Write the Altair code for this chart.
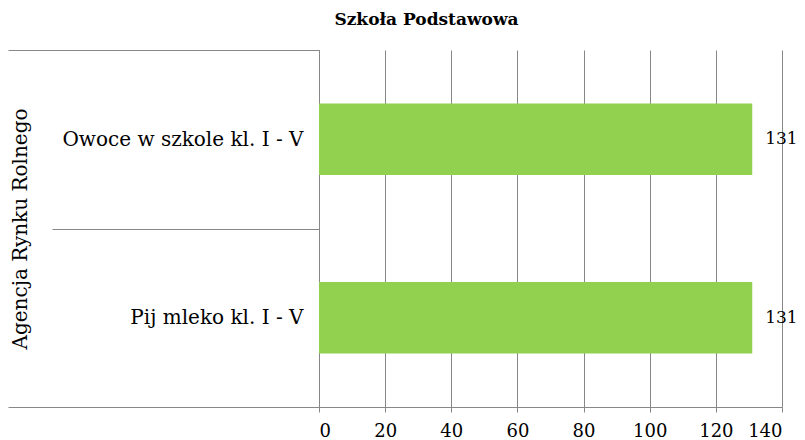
import altair as alt
import pandas as pd

categories = ["Owoce w szkole kl. I - V", "Pij mleko kl. I - V"]
values = [131, 131]
groups = ["Agencja Rynku Rolnego", "Agencja Rynku Rolnego"]
x_ticks = [0, 20, 40, 60, 80, 100, 120, 140]
chart_title = "Szkoła Podstawowa"

df = pd.DataFrame({"kategoria": categories, "wartosc": values, "grupa": groups})

FONT = "DejaVu Serif"
GRAY = "#878787"
GREEN = "#92D050"

cat_scale = alt.Scale(paddingInner=0, paddingOuter=0)

x_enc = alt.X(
    "wartosc:Q",
    scale=alt.Scale(domain=[0, 140], nice=False),
    axis=alt.Axis(
        values=x_ticks, title=None, grid=True, gridColor=GRAY, gridOpacity=1,
        domainColor=GRAY, tickColor=GRAY, tickSize=5, labelFont=FONT,
        labelFontSize=18, labelColor="black", labelPadding=10,
    ),
)

y_enc = alt.Y(
    "kategoria:N",
    sort=categories,
    scale=cat_scale,
    axis=alt.Axis(
        orient="left", title=None, tickBand="extent", tickSize=267, tickColor=GRAY,
        domainColor=GRAY, labelFont=FONT, labelFontSize=20, labelColor="black",
        labelPadding=-251, labelLimit=0,
    ),
)

bars = alt.Chart(df).mark_bar(color=GREEN, height=alt.RelativeBandSize(0.4)).encode(
    x=x_enc, y=y_enc
)

value_labels = alt.Chart(df).mark_text(
    align="left", baseline="middle", dx=13, font=FONT, fontSize=17, color="black"
).encode(
    x=alt.X("wartosc:Q"),
    y=alt.Y("kategoria:N", sort=categories, scale=cat_scale),
    text="wartosc:Q",
)

main = alt.layer(bars, value_labels)

group_layer = alt.Chart(df).mark_bar(opacity=0).encode(
    x=alt.X("wartosc:Q"),
    y=alt.Y(
        "grupa:N",
        scale=alt.Scale(paddingInner=0, paddingOuter=0),
        axis=alt.Axis(
            orient="left", title=None, tickBand="extent", tickSize=311, tickColor=GRAY,
            domain=False, labelAngle=270, labelAlign="center", labelBaseline="middle",
            labelFont=FONT, labelFontSize=20, labelColor="black", labelPadding=-12,
            labelLimit=0,
        ),
    ),
)

chart = (
    alt.layer(main, group_layer)
    .resolve_scale(y="independent")
    .properties(
        width=463,
        height=357,
        autosize=alt.AutoSizeParams(type="none"),
        padding={"left": 311, "top": 42, "right": 15, "bottom": 33},
        title=alt.TitleParams(
            chart_title, font=FONT, fontSize=17, fontWeight="bold", color="black",
            anchor="middle", dx=-124, offset=11,
        ),
    )
    .configure_view(stroke=None)
)

chart.save("out.html", embed_options={"renderer": "svg", "actions": False})
